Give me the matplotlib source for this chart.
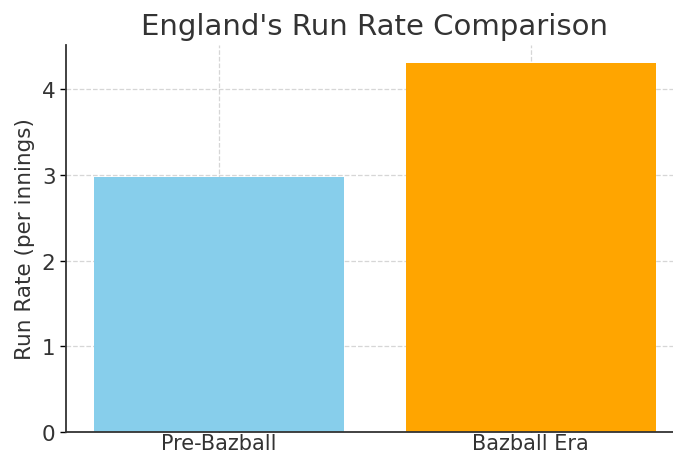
import matplotlib.pyplot as plt

# Datos
categories = ['Pre-Bazball', 'Bazball Era']
run_rates = [2.98, 4.30]
bar_colors = ['skyblue', 'orange']

fig = plt.figure(figsize=(6.73, 4.56), dpi=100)
ax = fig.add_axes([0.098, 0.0504, 0.918, 0.8487])

ax.bar(categories, run_rates, color=bar_colors, width=0.8, zorder=2)

ax.set_title("England's Run Rate Comparison", fontsize=21, color='#333333', pad=8)
ax.set_ylabel('Run Rate (per innings)', fontsize=15.5, color='#333333', labelpad=5)
ax.tick_params(axis='y', labelsize=15.5, labelcolor='#333333', length=4, width=1)
ax.tick_params(axis='x', labelsize=15, labelcolor='#333333', length=4, width=1,
               direction='in', pad=1)
ax.set_yticks([0, 1, 2, 3, 4])

ax.grid(True, linestyle='--', linewidth=0.9, color='#cccccc', alpha=0.8, zorder=0)
ax.spines['top'].set_visible(False)
ax.spines['right'].set_visible(False)
for s in ['left', 'bottom']:
    ax.spines[s].set_color('#333333')
    ax.spines[s].set_linewidth(1.3)

fig.savefig('out.png', dpi=100)
